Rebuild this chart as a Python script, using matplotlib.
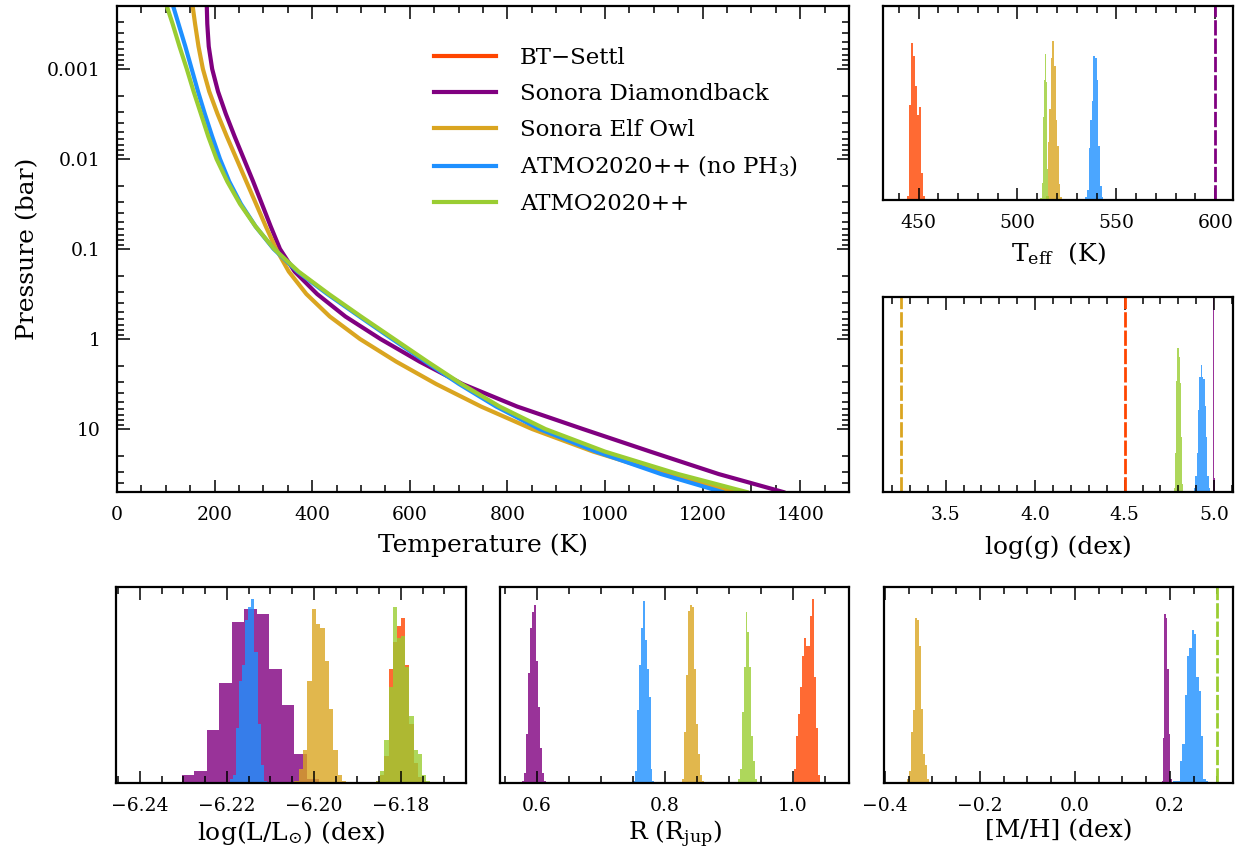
import matplotlib
matplotlib.use('Agg')
import matplotlib.pyplot as plt
import numpy as np
from matplotlib.ticker import MultipleLocator, LogLocator, NullFormatter

plt.rcParams['font.family'] = ['DejaVu Serif']
plt.rcParams['mathtext.fontset'] = 'dejavuserif'

# ---- цвета и подписи моделей ----
c_bt = '#FF4500'
c_db = '#800080'
c_eo = '#DAA520'
c_np = '#1E90FF'
c_at = '#9ACD32'
labels = ['BT\u2212Settl', 'Sonora Diamondback', 'Sonora Elf Owl',
          'ATMO2020++ (no PH$_3$)', 'ATMO2020++']

# ---- профили P-T: общая сетка давлений (бар) и температуры (K) ----
p_grid = [2e-4, 3.16e-4, 5.62e-4, 1e-3, 1.78e-3, 3.16e-3, 5.62e-3, 0.01, 0.0178, 0.0316,
          0.0562, 0.1, 0.178, 0.316, 0.562, 1.0, 1.78, 3.16, 5.62, 10, 17.8, 31.6, 50]
t_db = [184, 185, 188, 195, 207, 223, 241, 260, 279, 297,
        315, 334, 364, 410, 468, 540, 620, 708, 820, 955, 1093, 1233, 1365]
t_eo = [155, 160, 167, 176, 189, 206, 225, 245, 265, 285,
        305, 326, 352, 388, 436, 498, 572, 654, 746, 851, 976, 1126, 1262]
t_np = [115, 126, 140, 153, 166, 180, 195, 211, 230, 254,
        284, 321, 370, 431, 497, 564, 632, 701, 777, 866, 982, 1115, 1240]
t_at = [102, 114, 128, 143, 157, 172, 187, 204, 226, 252,
        284, 322, 372, 434, 500, 568, 636, 706, 784, 878, 1000, 1150, 1290]

# ---- гистограммы апостериорных распределений: (левый край, ширина бина, высоты) ----
# Teff
teff_bt = (444.3, 1.0, [2, 49, 81, 74, 59, 44, 48, 14, 2])
teff_eo = (514.5, 0.8, [2, 30, 47, 73, 82, 69, 41, 28, 8, 1.5])
teff_np = (534.3, 0.83, [1.5, 5, 27, 41, 51, 74, 73, 62, 28, 7, 1.5])
teff_at = (511.6, 0.56, [1, 9, 43, 62, 75, 61, 16, 2])
teff_db_fixed = 600

# log(g)
logg_db = (4.992, 0.006, [130, 7])
logg_np = (4.888, 0.00745, [2, 8, 20, 42, 59, 65, 59, 58, 44, 28, 8, 2])
logg_at = (4.776, 0.0062, [2, 20, 57, 74, 69, 56, 28, 4])
logg_eo_fixed = 3.25
logg_bt_fixed = 4.5

# log(L/Lsun)
logl_bt = (-6.1857, 0.00096, [1, 4, 14, 58, 72, 80, 84, 60, 30, 10, 3, 1])
logl_db = (-6.2333, 0.00288, [0.7, 4, 6, 27, 51, 82, 89, 86, 58, 40, 15, 2])
logl_eo = (-6.2045, 0.000997, [1, 7, 17, 52, 89, 81, 79, 62, 38, 17, 4, 1])
logl_np = (-6.2193, 0.000705, [2, 4, 28, 52, 60, 83, 90, 94, 67, 30, 9, 1])
logl_at = (-6.1857, 0.00096, [1, 6, 22, 49, 90, 74, 75, 59, 34, 17, 15, 4, 1])

# R (Rjup)
rad_bt = (0.9984, 0.00312, [0.5, 7, 24, 35, 49, 65, 74, 70, 70, 85, 94, 54, 28, 4, 0.5])
rad_db = (0.5762, 0.00312, [1, 5, 25, 56, 79, 87, 91, 62, 39, 18, 5, 1])
rad_eo = (0.8228, 0.00316, [0.5, 2, 26, 55, 88, 91, 90, 58, 30, 15, 4, 1])
rad_np = (0.7501, 0.00302, [1, 6, 37, 60, 79, 93, 73, 58, 44, 7, 1])
rad_at = (0.9137, 0.00301, [2, 7, 36, 59, 87, 77, 59, 24, 11, 2])

# [M/H]
mh_db = (0.1825, 0.003, [1, 23, 86, 84, 58, 25, 2])
mh_eo = (-0.3579, 0.00421, [0.5, 2, 6, 26, 37, 84, 83, 70, 38, 15, 9, 2, 0.5])
mh_np = (0.207, 0.0049, [1, 1, 1, 11, 20, 45, 65, 69, 78, 76, 54, 47, 24, 2, 1])
mh_at_fixed = 0.3

W, H = 1245, 855
fig = plt.figure(figsize=(W / 100, H / 100), dpi=100)


def box(l, t, r, b):
    return fig.add_axes([l / W, 1 - b / H, (r - l) / W, (b - t) / H])


def style(ax, left=True, major=None, minor=None):
    ax.tick_params(which='both', direction='in', top=True, right=left, left=left,
                   labelsize=13.5, pad=10, width=1.1)
    ax.tick_params(which='major', length=9)
    ax.tick_params(which='minor', length=5)
    if not left:
        ax.set_yticks([])
    if major is not None:
        ax.xaxis.set_major_locator(MultipleLocator(major))
    if minor is not None:
        ax.xaxis.set_minor_locator(MultipleLocator(minor))
    for s in ax.spines.values():
        s.set_linewidth(1.6)


def hist(ax, spec, color):
    left, width, heights = spec
    edges = left + width * np.arange(len(heights))
    ax.bar(edges, heights, width=width, align='edge', color=color, alpha=0.8, linewidth=0)


def fixed(ax, x, color):
    ax.axvline(x, color=color, lw=2, ls=(0, (5.5, 1.1)))


# ---- основной график P-T ----
ax = box(117, 6, 849, 492)
ax.plot([], [], color=c_bt, lw=3, label=labels[0])
ax.plot(t_db, p_grid, color=c_db, lw=3, label=labels[1])
ax.plot(t_eo, p_grid, color=c_eo, lw=3, label=labels[2])
ax.plot(t_np, p_grid, color=c_np, lw=3, label=labels[3])
ax.plot(t_at, p_grid, color=c_at, lw=3, label=labels[4])
ax.set_yscale('log')
ax.set_ylim(50, 2e-4)
ax.set_xlim(0, 1500)
style(ax, major=200, minor=50)
ax.tick_params(axis='y', pad=12)
ax.set_yticks([1e-3, 1e-2, 0.1, 1, 10])
ax.set_yticklabels(['0.001', '0.01', '0.1', '1', '10'])
ax.yaxis.set_minor_locator(LogLocator(base=10, subs=np.arange(2, 10)))
ax.yaxis.set_minor_formatter(NullFormatter())
ax.set_xlabel('Temperature (K)', fontsize=18, labelpad=7)
ax.set_ylabel('Pressure (bar)', fontsize=18, labelpad=5)
ax.legend(loc='upper left', bbox_to_anchor=(0.405, 0.958), frameon=False, fontsize=16.5,
          handlelength=2.7, handletextpad=1.05, labelspacing=0.6)

# ---- Teff ----
ax = box(883, 6, 1233, 200)
hist(ax, teff_bt, c_bt)
hist(ax, teff_eo, c_eo)
hist(ax, teff_np, c_np)
hist(ax, teff_at, c_at)
fixed(ax, teff_db_fixed, c_db)
ax.set_xlim(432, 609)
ax.set_ylim(0, 100)
style(ax, left=False, major=50, minor=10)
ax.set_xlabel('T$_{\\rm eff}$  (K)', fontsize=18, labelpad=6)

# ---- log(g) ----
ax = box(883, 297, 1233, 492)
fixed(ax, logg_bt_fixed, c_bt)
hist(ax, logg_db, c_db)
fixed(ax, logg_eo_fixed, c_eo)
hist(ax, logg_np, c_np)
hist(ax, logg_at, c_at)
ax.set_xlim(3.15, 5.105)
ax.set_ylim(0, 100)
style(ax, left=False, major=0.5, minor=0.1)
ax.set_xlabel('log(g) (dex)', fontsize=18, labelpad=8)

# ---- log(L) ----
ax = box(116, 587, 466, 783)
hist(ax, logl_bt, c_bt)
hist(ax, logl_db, c_db)
hist(ax, logl_eo, c_eo)
hist(ax, logl_np, c_np)
hist(ax, logl_at, c_at)
ax.set_xlim(-6.2455, -6.165)
ax.set_ylim(0, 100)
style(ax, left=False, major=0.02, minor=0.005)
ax.set_xlabel('log(L/L$_{\\odot}$) (dex)', fontsize=18, labelpad=3)

# ---- R ----
ax = box(500, 587, 849, 783)
hist(ax, rad_bt, c_bt)
hist(ax, rad_db, c_db)
hist(ax, rad_eo, c_eo)
hist(ax, rad_np, c_np)
hist(ax, rad_at, c_at)
ax.set_xlim(0.542, 1.0875)
ax.set_ylim(0, 100)
style(ax, left=False, major=0.2, minor=0.05)
ax.set_xlabel('R (R$_{\\rm jup}$)', fontsize=18, labelpad=3)

# ---- [M/H] ----
ax = box(884, 587, 1233, 783)
hist(ax, mh_db, c_db)
hist(ax, mh_eo, c_eo)
hist(ax, mh_np, c_np)
fixed(ax, mh_at_fixed, c_at)
ax.set_xlim(-0.402, 0.333)
ax.set_ylim(0, 100)
style(ax, left=False, major=0.2, minor=0.05)
ax.set_xlabel('[M/H] (dex)', fontsize=18, labelpad=3)

plt.savefig('out.png', dpi=100)
